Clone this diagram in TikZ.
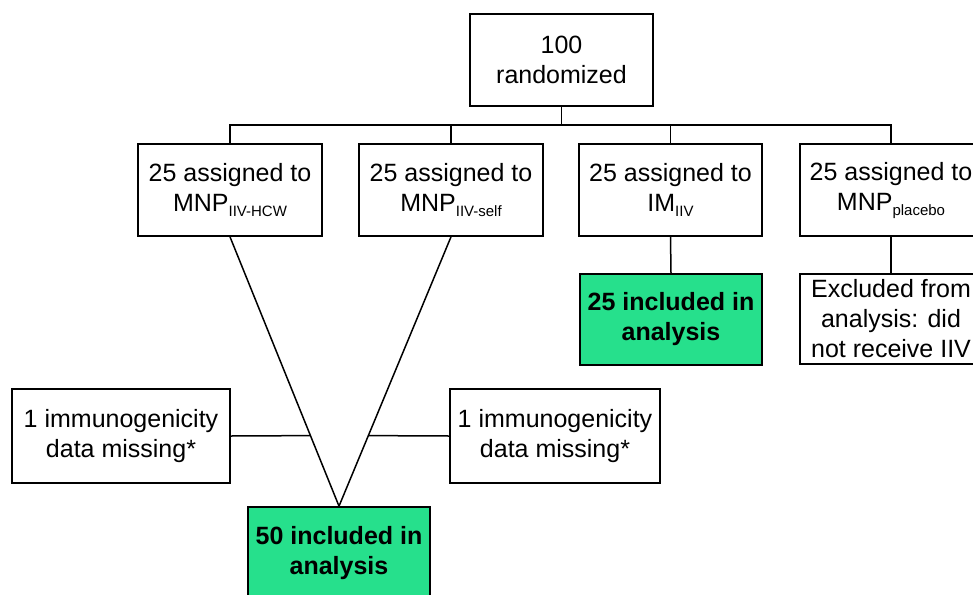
\documentclass[tikz,border=0pt]{standalone}
\usepackage{fontspec}
\setmainfont{Liberation Sans}
\usetikzlibrary{calc}
\definecolor{incl}{RGB}{38,224,140}
\newcommand{\sbs}[1]{\raisebox{-5pt}{\fontsize{15}{15}\selectfont #1}}
\begin{document}
\begin{tikzpicture}[x=1pt,y=-1pt,
  box/.style={draw, line width=1.7pt, align=center, inner sep=0pt, fill=white,
    font=\fontsize{25}{30}\selectfont},
  greenbox/.style={box, fill=incl, font=\fontsize{25}{30}\selectfont\bfseries},
  conn/.style={line width=1.5pt}]
\useasboundingbox (0,0) rectangle (973,594);
\clip (0,0) rectangle (973,594);
\node[box, minimum width=183pt, minimum height=92pt] (top) at (561.5,60) {100\\randomized};
\node[box, minimum width=184pt, minimum height=92pt] (b1) at (230,190) {25 assigned to\\MNP\sbs{IIV-HCW}};
\node[box, minimum width=184pt, minimum height=92pt] (b2) at (451,190) {25 assigned to\\MNP\sbs{IIV-self}};
\node[box, minimum width=183pt, minimum height=92pt] (b3) at (670.5,190) {25 assigned to\\IM\sbs{IIV}};
\node[box, minimum width=182pt, minimum height=92pt] (b4) at (891,190) {25 assigned to\\MNP\sbs{placebo}};
\node[greenbox, minimum width=182pt, minimum height=91pt] (g3) at (671,319.5) {25 included in\\analysis};
\node[box, minimum width=182pt, minimum height=90pt] (ex) at (891,319) {Excluded from\\analysis: did\\not receive IIV};
\node[box, minimum width=218pt, minimum height=94pt] (m1) at (121,436) {1 immunogenicity\\data missing*};
\node[box, minimum width=210pt, minimum height=94pt] (m2) at (555,436) {1 immunogenicity\\data missing*};
\node[greenbox, minimum width=182pt, minimum height=92pt] (g50) at (339,553) {50 included in\\analysis};
\coordinate (hub) at (561.5,125);
\draw[conn] (top.south) -- (hub);
\draw[conn] (b1.north) |- (hub);
\draw[conn] (b2.north) |- (hub);
\draw[conn] (b3.north) |- (hub);
\draw[conn] (b4.north) |- (hub);
\draw[conn] (b3.south) -- (g3.north);
\draw[conn] (b4.south) -- (ex.north);
\draw[conn] (b1.south) -- (g50.north);
\draw[conn] (b2.south) -- (g50.north);
\coordinate (j1) at ($(b1.south)!0.738!(g50.north)$);
\coordinate (j2) at ($(b2.south)!0.738!(g50.north)$);
\draw[conn] (m1.east) -- (j1);
\draw[conn] (m2.west) -- (j2);
\end{tikzpicture}
\end{document}
